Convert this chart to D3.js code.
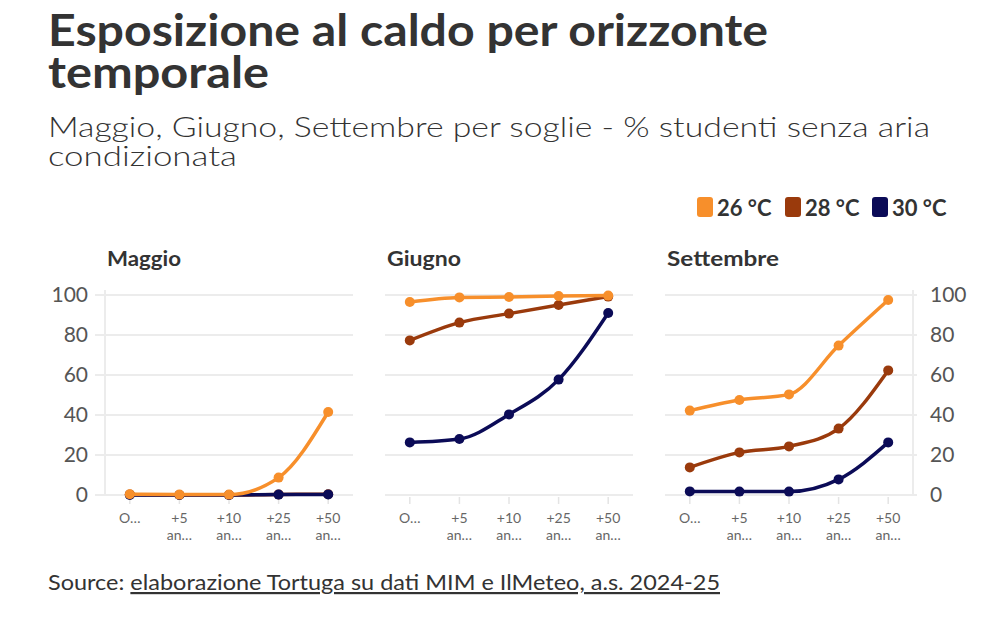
<!DOCTYPE html>
<html>
<head>
<meta charset="utf-8">
<script src="https://cdn.jsdelivr.net/npm/d3@7"></script>
<style>
  body { margin: 0; background: #fff; }
  svg { font-family: Lato, "Noto Sans", sans-serif; }
  .title { font-weight: 700; fill: #333; }
  .subtitle { fill: #333; font-weight: 300; }
  .panel-title { font-weight: 700; fill: #333; font-size: 21px; }
  .legend-text { font-weight: 700; fill: #333; font-size: 22px; }
  .xlab { fill: #666; font-size: 14px; }
  .source { fill: #333; }
</style>
</head>
<body>
<svg width="988" height="617"></svg>
<script>
// **** Data ****
var months = ['Maggio', 'Giugno', 'Settembre'];
var categories = ['Oggi', '+5 anni', '+10 anni', '+25 anni', '+50 anni'];
var xTickLabels = [['O…'], ['+5', 'an…'], ['+10', 'an…'], ['+25', 'an…'], ['+50', 'an…']];
var yTicks = [0, 20, 40, 60, 80, 100];
var seriesNames = ['26 °C', '28 °C', '30 °C'];
var seriesColors = ['#f78f2b', '#9a3a0c', '#0b0b57'];

var maggio26 = [0.4, 0.2, 0.2, 8.7, 41.5];
var maggio28 = [0.3, 0, 0, 0.3, 0.4];
var maggio30 = [0, 0, 0, 0.2, 0.3];

var giugno26 = [96.5, 98.8, 99.0, 99.5, 99.7];
var giugno28 = [77.3, 86.2, 90.7, 95.0, 99.2];
var giugno30 = [26.3, 28.0, 40.3, 57.7, 91.0];

var settembre26 = [42.2, 47.5, 50.3, 74.7, 97.5];
var settembre28 = [13.8, 21.3, 24.3, 33.2, 62.3];
var settembre30 = [1.8, 1.7, 1.7, 7.8, 26.3];

var panelData = [
    [maggio26, maggio28, maggio30],
    [giugno26, giugno28, giugno30],
    [settembre26, settembre28, settembre30]
];

// draw order: 28, 30, then 26 on top
var drawOrder = [1, 2, 0];

var svg = d3.select('svg');

// stretch a text to a target width, keeping its font size
function fitWidth(sel, target) {
    sel.attr('textLength', target).attr('lengthAdjust', 'spacingAndGlyphs');
}

// **** Header ****
var t1 = svg.append('text').attr('class', 'title')
    .attr('x', 48).attr('y', 46).attr('font-size', 44)
    .text('Esposizione al caldo per orizzonte');
fitWidth(t1, 720);
var t2 = svg.append('text').attr('class', 'title')
    .attr('x', 48).attr('y', 88).attr('font-size', 44)
    .text('temporale');
fitWidth(t2, 221);

var s1 = svg.append('text').attr('class', 'subtitle')
    .attr('x', 48).attr('y', 137).attr('font-size', 27)
    .text('Maggio, Giugno, Settembre per soglie - % studenti senza aria');
fitWidth(s1, 882);
var s2 = svg.append('text').attr('class', 'subtitle')
    .attr('x', 48).attr('y', 166).attr('font-size', 27)
    .text('condizionata');
fitWidth(s2, 189);

// **** Legend ****
var legendX = [697, 785, 872];
seriesNames.forEach(function (name, i) {
    svg.append('rect')
        .attr('x', legendX[i]).attr('y', 197)
        .attr('width', 16).attr('height', 20).attr('rx', 3)
        .style('fill', seriesColors[i]);
    svg.append('text').attr('class', 'legend-text')
        .attr('x', legendX[i] + 20).attr('y', 216)
        .text(name);
});

// **** Panels ****
var panelWidth = 248;
var yScale = d3.scaleLinear().domain([0, 100]).range([495, 295]);
var titleWidths = [74, 74, 112];

months.forEach(function (month, p) {
    var x0 = 105 + p * 280;
    var xScale = d3.scalePoint().domain(categories).range([x0, x0 + panelWidth]).padding(0.5);
    var g = svg.append('g');

    var pt = g.append('text').attr('class', 'panel-title')
        .attr('x', x0 + 2).attr('y', 266).text(month);
    fitWidth(pt, titleWidths[p]);

    // gridlines
    var gx1 = p === 0 ? x0 - 10 : x0;
    var gx2 = p === 2 ? x0 + panelWidth + 4 : x0 + panelWidth;
    g.selectAll('.grid').data(yTicks).enter().append('line')
        .attr('x1', gx1).attr('x2', gx2)
        .attr('y1', function (d) { return yScale(d); })
        .attr('y2', function (d) { return yScale(d); })
        .style('stroke', '#ececec').style('stroke-width', 2);

    // vertical axis lines
    if (p === 0 || p === 2) {
        var vx = p === 0 ? x0 : x0 + panelWidth;
        g.append('line')
            .attr('x1', vx).attr('x2', vx)
            .attr('y1', 290).attr('y2', yScale(0))
            .style('stroke', '#ececec').style('stroke-width', 2);
    }

    // y axis labels
    if (p === 0) {
        g.append('g').attr('class', 'ytick')
            .attr('transform', 'translate(' + (x0 - 10) + ',0)')
            .call(d3.axisLeft(yScale).tickValues(yTicks).tickSize(0).tickPadding(7))
            .call(function (a) { a.select('.domain').remove(); });
    }
    if (p === 2) {
        g.append('g').attr('class', 'ytick')
            .attr('transform', 'translate(' + (x0 + panelWidth + 4) + ',0)')
            .call(d3.axisRight(yScale).tickValues(yTicks).tickSize(0).tickPadding(13))
            .call(function (a) { a.select('.domain').remove(); });
    }
    g.selectAll('.ytick text')
        .style('font-family', 'Lato, sans-serif')
        .style('font-size', '21px')
        .style('fill', '#555');

    // x ticks and labels
    categories.forEach(function (c, i) {
        var cx = xScale(c);
        g.append('line')
            .attr('x1', cx).attr('x2', cx)
            .attr('y1', yScale(0) + 2).attr('y2', yScale(0) + 9)
            .style('stroke', '#e4e4e4').style('stroke-width', 1.5);
        var tx = g.append('text').attr('class', 'xlab')
            .attr('text-anchor', 'middle');
        xTickLabels[i].forEach(function (s, k) {
            tx.append('tspan').attr('x', cx).attr('y', 523 + k * 17).text(s);
        });
    });

    // lines and dots
    var line = d3.line()
        .x(function (d, i) { return xScale(categories[i]); })
        .y(function (d) { return yScale(d); })
        .curve(d3.curveMonotoneX);

    drawOrder.forEach(function (s) {
        var values = panelData[p][s];
        g.append('path')
            .datum(values)
            .attr('d', line)
            .style('fill', 'none')
            .style('stroke', seriesColors[s])
            .style('stroke-width', 3.5)
            .style('stroke-linejoin', 'round')
            .style('stroke-linecap', 'round');
        g.selectAll('.dot' + s).data(values).enter().append('circle')
            .attr('cx', function (d, i) { return xScale(categories[i]); })
            .attr('cy', function (d) { return yScale(d); })
            .attr('r', 5)
            .style('fill', seriesColors[s]);
    });
});

// **** Source ****
var src = svg.append('text').attr('class', 'source')
    .attr('x', 48).attr('y', 590).attr('font-size', 22);
src.append('tspan').text('Source: ');
src.append('tspan').style('text-decoration', 'underline')
    .text('elaborazione Tortuga su dati MIM e IlMeteo, a.s. 2024-25');
fitWidth(src, 672);
</script>
</body>
</html>
